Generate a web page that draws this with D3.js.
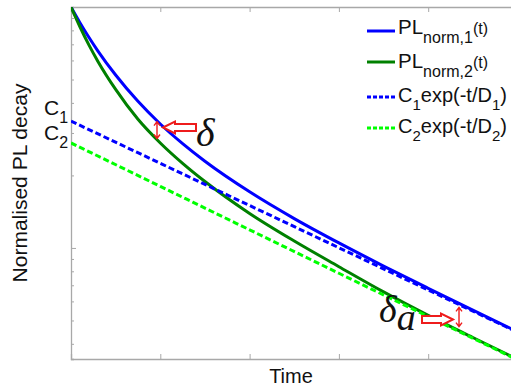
<!DOCTYPE html>
<html><head><meta charset="utf-8">
<script src="https://cdn.jsdelivr.net/npm/d3@7"></script>
<style>body{margin:0;background:#fff}svg{display:block}</style>
</head><body>
<script>
// ---- data ----
const tVals = [0,0.1,0.2,0.3,0.5,0.75,1,1.25,1.5,2,2.5,3,3.5,4,4.5,5];
const pl1 = [1,0.861,0.749,0.658,0.522,0.406,0.327,0.271,0.229,0.171,0.1324,0.1049,0.0841,0.0680,0.0552,0.0449];
const pl2 = [1,0.828,0.696,0.596,0.455,0.342,0.2727,0.2244,0.1886,0.1390,0.1068,0.0836,0.0657,0.0525,0.0425,0.0345];
const fitT = [0,1,2,3,4,5];
const fit1 = [0.336,0.2245,0.1500,0.1002,0.0669,0.0447];
const fit2 = [0.2727,0.1801,0.1189,0.0785,0.0519,0.0343];
const xTicks = [0,1,2,3,4,5];
const yMajor = [0.1,1];
const yMinor = [0.04,0.05,0.06,0.07,0.08,0.09,0.2,0.3,0.4,0.5,0.6,0.7,0.8,0.9];
const deltaT = 0.963, deltaAT = 4.345;

const W=511,H=388;
const L=71,R=517.5,T=7,B=359;
const x=d3.scaleLinear().domain([0,5]).range([L,R]);
const y=d3.scaleLog().domain([0.0346,1]).range([B,T]);
const axisCol="#a8a8a8";

const svg=d3.select("body").append("svg").attr("width",W).attr("height",H)
  .style("font-family","'Liberation Sans',Arial,sans-serif");

svg.append("defs").append("clipPath").attr("id","clip")
  .append("rect").attr("x",L).attr("y",T).attr("width",R-L).attr("height",B-T);

// axes
const gb=svg.append("g").attr("transform",`translate(0,${B})`)
  .call(d3.axisBottom(x).tickValues(xTicks).tickSize(-5).tickFormat(""));
const gt=svg.append("g").attr("transform",`translate(0,${T})`)
  .call(d3.axisTop(x).tickValues(xTicks).tickSize(-5).tickFormat(""));
const gl=svg.append("g").attr("transform",`translate(${L},0)`)
  .call(d3.axisLeft(y).tickValues(yMinor).tickSize(-3).tickFormat(""));
const gl2=svg.append("g").attr("transform",`translate(${L},0)`)
  .call(d3.axisLeft(y).tickValues(yMajor).tickSize(-5).tickFormat(""));
[gb,gt,gl,gl2].forEach(g=>{
  g.selectAll("path.domain").attr("stroke",axisCol).attr("stroke-width",1.3);
  g.selectAll(".tick line").attr("stroke",axisCol).attr("stroke-width",1);
});
gl2.select("path.domain").remove();

// lines
const line=d3.line().x(d=>x(d[0])).y(d=>y(d[1])).curve(d3.curveMonotoneX);
const plot=svg.append("g").attr("clip-path","url(#clip)");
const series=[
  {t:tVals,v:pl1,c:"#0000ff",dash:null},
  {t:tVals,v:pl2,c:"#008000",dash:null},
  {t:fitT,v:fit1,c:"#0000ff",dash:"6,3"},
  {t:fitT,v:fit2,c:"#00ff00",dash:"6,3"}
];
series.forEach(s=>{
  plot.append("path").datum(s.t.map((t,i)=>[t,s.v[i]]))
    .attr("d",line).attr("fill","none").attr("stroke",s.c)
    .attr("stroke-width",3).attr("stroke-dasharray",s.dash);
});

// axis labels
svg.append("text").attr("x",291).attr("y",383).attr("text-anchor","middle")
  .attr("font-size",20).attr("fill","#111").text("Time");
svg.append("text").attr("transform","rotate(-90)").attr("x",-183).attr("y",27)
  .attr("text-anchor","middle").attr("font-size",21).attr("fill","#111").text("Normalised PL decay");

// C1, C2 labels
function cLabel(sub,by){
  const t=svg.append("text").attr("x",44).attr("y",by).attr("font-size",21).attr("fill","#111");
  t.append("tspan").text("C");
  t.append("tspan").attr("font-size",16).attr("dy",8).text(sub);
}
cLabel("1",115);
cLabel("2",140);

// legend
const lx0=367,lx1=395,tx=398;
const legY=[31,62,97,128], legB=[34,68,102,133];
function legLine(i,c,dash){
  svg.append("line").attr("x1",lx0).attr("x2",lx1).attr("y1",legY[i]).attr("y2",legY[i])
    .attr("stroke",c).attr("stroke-width",3).attr("stroke-dasharray",dash);
}
legLine(0,series[0].c,null);legLine(1,series[1].c,null);legLine(2,series[2].c,"4,2");legLine(3,series[3].c,"4,2");
function plEntry(i,n){
  const t=svg.append("text").attr("x",tx).attr("y",legB[i]).attr("font-size",20.5).attr("fill","#111");
  t.append("tspan").text("PL");
  t.append("tspan").attr("font-size",16).attr("dy",9).text("norm,"+n);
  t.append("tspan").attr("font-size",16).attr("dy",-9).text("(t)");
}
plEntry(0,"1");plEntry(1,"2");
function cEntry(i,n){
  const t=svg.append("text").attr("x",tx).attr("y",legB[i]).attr("font-size",20).attr("fill","#111");
  t.append("tspan").text("C");
  t.append("tspan").attr("font-size",15).attr("dy",8).text(n);
  t.append("tspan").attr("dy",-8).text("exp(-t/D");
  t.append("tspan").attr("font-size",15).attr("dy",8).text(n);
  t.append("tspan").attr("dy",-8).text(")");
}
cEntry(2,"1");cEntry(3,"2");

// annotations
function interp(ts,vs,t){
  const i=Math.max(0,d3.bisectRight(ts,t)-1);
  const j=Math.min(ts.length-1,i+1);
  const f=(t-ts[i])/((ts[j]-ts[i])||1);
  return Math.exp(Math.log(vs[i])+(Math.log(vs[j])-Math.log(vs[i]))*f);
}
const red="#ee1c1c";
function dblArrow(t,inset){
  const xx=x(t), y1=y(interp(tVals,pl1,t))+inset, y2=y(interp(tVals,pl2,t))-inset;
  svg.append("path").attr("d",`M${xx},${y1}V${y2}M${xx-3},${y1+4}L${xx},${y1}L${xx+3},${y1+4}M${xx-3},${y2-4}L${xx},${y2}L${xx+3},${y2-4}`)
    .attr("fill","none").attr("stroke",red).attr("stroke-width",1.4);
  return {xx,y1,y2};
}
function blockArrow(tipX,cy,len,dir){
  const hl=12, hh=6, sh=3.5;
  const bx=tipX-dir*hl, ex=tipX-dir*len;
  const p=`M${tipX},${cy}L${bx},${cy-hh}L${bx},${cy-sh}L${ex},${cy-sh}L${ex},${cy+sh}L${bx},${cy+sh}L${bx},${cy+hh}Z`;
  svg.append("path").attr("d",p).attr("fill","#fff").attr("stroke",red).attr("stroke-width",2).attr("stroke-linejoin","miter");
}
const d1=dblArrow(deltaT,1);
blockArrow(d1.xx+6,127.5,33,-1);
svg.append("text").attr("x",196).attr("y",146).attr("font-family","'Liberation Serif','Times New Roman',serif")
  .attr("font-style","italic").attr("font-size",40).attr("fill","#111").text("δ");

const d2=dblArrow(deltaAT,4);
blockArrow(453,319.5,31,1);
const ta=svg.append("text").attr("x",379).attr("y",322).attr("font-family","'Liberation Serif','Times New Roman',serif")
  .attr("font-style","italic").attr("font-size",38).attr("fill","#111");
ta.append("tspan").text("δ");
ta.append("tspan").attr("dy",8).text("a");
</script>
</body></html>
